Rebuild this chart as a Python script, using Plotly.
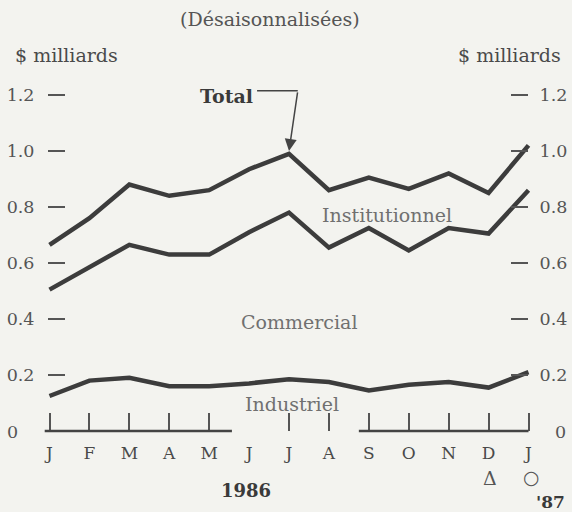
import plotly.graph_objects as go

# ---- data (billions $, seasonally adjusted) ----
months = ["J", "F", "M", "A", "M", "J", "J", "A", "S", "O", "N", "D", "J"]
industriel = [0.125, 0.18, 0.19, 0.16, 0.16, 0.17, 0.185, 0.175, 0.145, 0.165, 0.175, 0.155, 0.21]
commercial = [0.38, 0.405, 0.475, 0.47, 0.47, 0.54, 0.595, 0.48, 0.58, 0.48, 0.55, 0.55, 0.65]
institutionnel = [0.16, 0.175, 0.215, 0.21, 0.23, 0.225, 0.21, 0.205, 0.18, 0.22, 0.195, 0.145, 0.16]
ytick_vals = [0.2, 0.4, 0.6, 0.8, 1.0, 1.2]
ytick_text = ["0.2", "0.4", "0.6", "0.8", "1.0", "1.2"]

W, H = 572, 512
X0PX, XSTEP = 49.5, 479 / 12      # pixel of first month, px per month
Y0PX, YSCALE = 431, 280            # pixel of zero, px per unit

xr = [-X0PX / XSTEP, (W - X0PX) / XSTEP]
yr = [-(H - Y0PX) / YSCALE, Y0PX / YSCALE]

def px(x):
    return x / W

def py(y):
    return 1 - y / H

BG = "#f3f3ef"
INK = "#3c3c3c"
SERIF = "DejaVu Serif"
xs = list(range(len(months)))
total = [a + b + c for a, b, c in zip(industriel, commercial, institutionnel)]

fig = go.Figure()
for name, vals in [("Industriel", industriel), ("Commercial", commercial),
                   ("Institutionnel", institutionnel)]:
    fig.add_trace(go.Scatter(x=xs, y=vals, name=name, stackgroup="one", fill="none",
                             mode="lines", line=dict(color=INK, width=4.5, shape="linear"),
                             hoverinfo="skip"))

tickfont = dict(family=SERIF, size=17.5, color="#555555")

fig.update_layout(
    width=W, height=H, margin=dict(l=0, r=0, t=0, b=0),
    paper_bgcolor=BG, plot_bgcolor=BG, showlegend=False,
    xaxis=dict(range=xr, domain=[0, 1], anchor="free", position=(H - Y0PX) / H,
               tickmode="array", tickvals=xs, ticktext=months, ticks="",
               showline=False, showgrid=False, zeroline=False,
               tickfont=dict(family=SERIF, size=17, color="#4a4a4a"),
               ticklabelstandoff=10),
    xaxis2=dict(range=xr, domain=[0, 1], overlaying="x", anchor="free",
                position=(H - Y0PX) / H,
                tickmode="array", tickvals=[0, 1, 2, 3, 4, 6, 7, 8, 9, 10, 11, 12],
                ticks="inside", ticklen=18, tickwidth=2, tickcolor="#555555",
                showticklabels=False, showline=False, showgrid=False, zeroline=False),
    yaxis=dict(range=yr, domain=[0, 1], anchor="free", position=65 / W, side="left",
               tickmode="array", tickvals=ytick_vals, ticktext=ytick_text,
               ticks="outside", ticklen=17, tickwidth=2, tickcolor="#555555",
               ticklabelstandoff=10,
               showline=False, showgrid=False, zeroline=False, tickfont=tickfont),
    yaxis2=dict(range=yr, domain=[0, 1], overlaying="y", anchor="free",
                position=510 / W, side="right",
                tickmode="array", tickvals=ytick_vals, ticktext=ytick_text,
                ticks="outside", ticklen=17, tickwidth=2, tickcolor="#555555",
                ticklabelstandoff=8,
                showline=False, showgrid=False, zeroline=False, tickfont=tickfont),
)
# dummy trace to activate secondary axes
fig.add_trace(go.Scatter(x=[None], y=[None], xaxis="x2", yaxis="y2", showlegend=False))

# broken baseline
for a, b in [(-0.12, 4.57), (7.75, 12.0)]:
    fig.add_shape(type="line", xref="x", yref="y", x0=a, x1=b, y0=0, y1=0,
                  line=dict(color="#444444", width=2.5))

# Total callout
tip_x = 6
tip_y = total[tip_x]
corner_x, corner_y = 6.22, 1.215
fig.add_shape(type="line", xref="x", yref="y", x0=5.2, x1=corner_x, y0=corner_y, y1=corner_y,
              line=dict(color="#444444", width=1.5))
fig.add_annotation(x=tip_x, y=tip_y + 0.01, xref="x", yref="y", ax=corner_x, ay=corner_y,
                   axref="x", ayref="y", text="", showarrow=True, arrowhead=2,
                   arrowsize=1.6, arrowwidth=1.5, arrowcolor="#444444")

def label(text, x, y, size=16, color="#4a4a4a", bold=False, xanchor="center"):
    fig.add_annotation(x=px(x), y=py(y), xref="paper", yref="paper", text=text,
                       showarrow=False, xanchor=xanchor, yanchor="middle",
                       font=dict(family=SERIF, size=size, color=color,
                                 weight="bold" if bold else "normal"))

label("Total", 226, 96, size=19, color="#3a3a3a", bold=True)
label("(Désaisonnalisées)", 270, 19, size=19, color="#555555")
label("$ milliards", 13, 55, size=19, color="#4a4a4a", xanchor="left")
label("$ milliards", 563, 55, size=19, color="#4a4a4a", xanchor="right")
label("0", 12, 432, size=17.5, color="#555555")
label("0", 560, 432, size=17.5, color="#555555")
label("Institutionnel", 387, 215, size=19, color="#707070")
label("Commercial", 299, 322, size=19, color="#707070")
label("Industriel", 292, 404, size=19, color="#707070")
label("1986", 246, 490, size=18, color="#3a3a3a", bold=True)
label("'87", 550, 502, size=17, color="#3a3a3a", bold=True)
label("Δ", 490, 478, size=19, color="#555555")
label("○", 531, 477, size=19, color="#555555")

fig.write_html("out.html", post_script="document.body.style.margin='0';",
               config={"displayModeBar": False})
